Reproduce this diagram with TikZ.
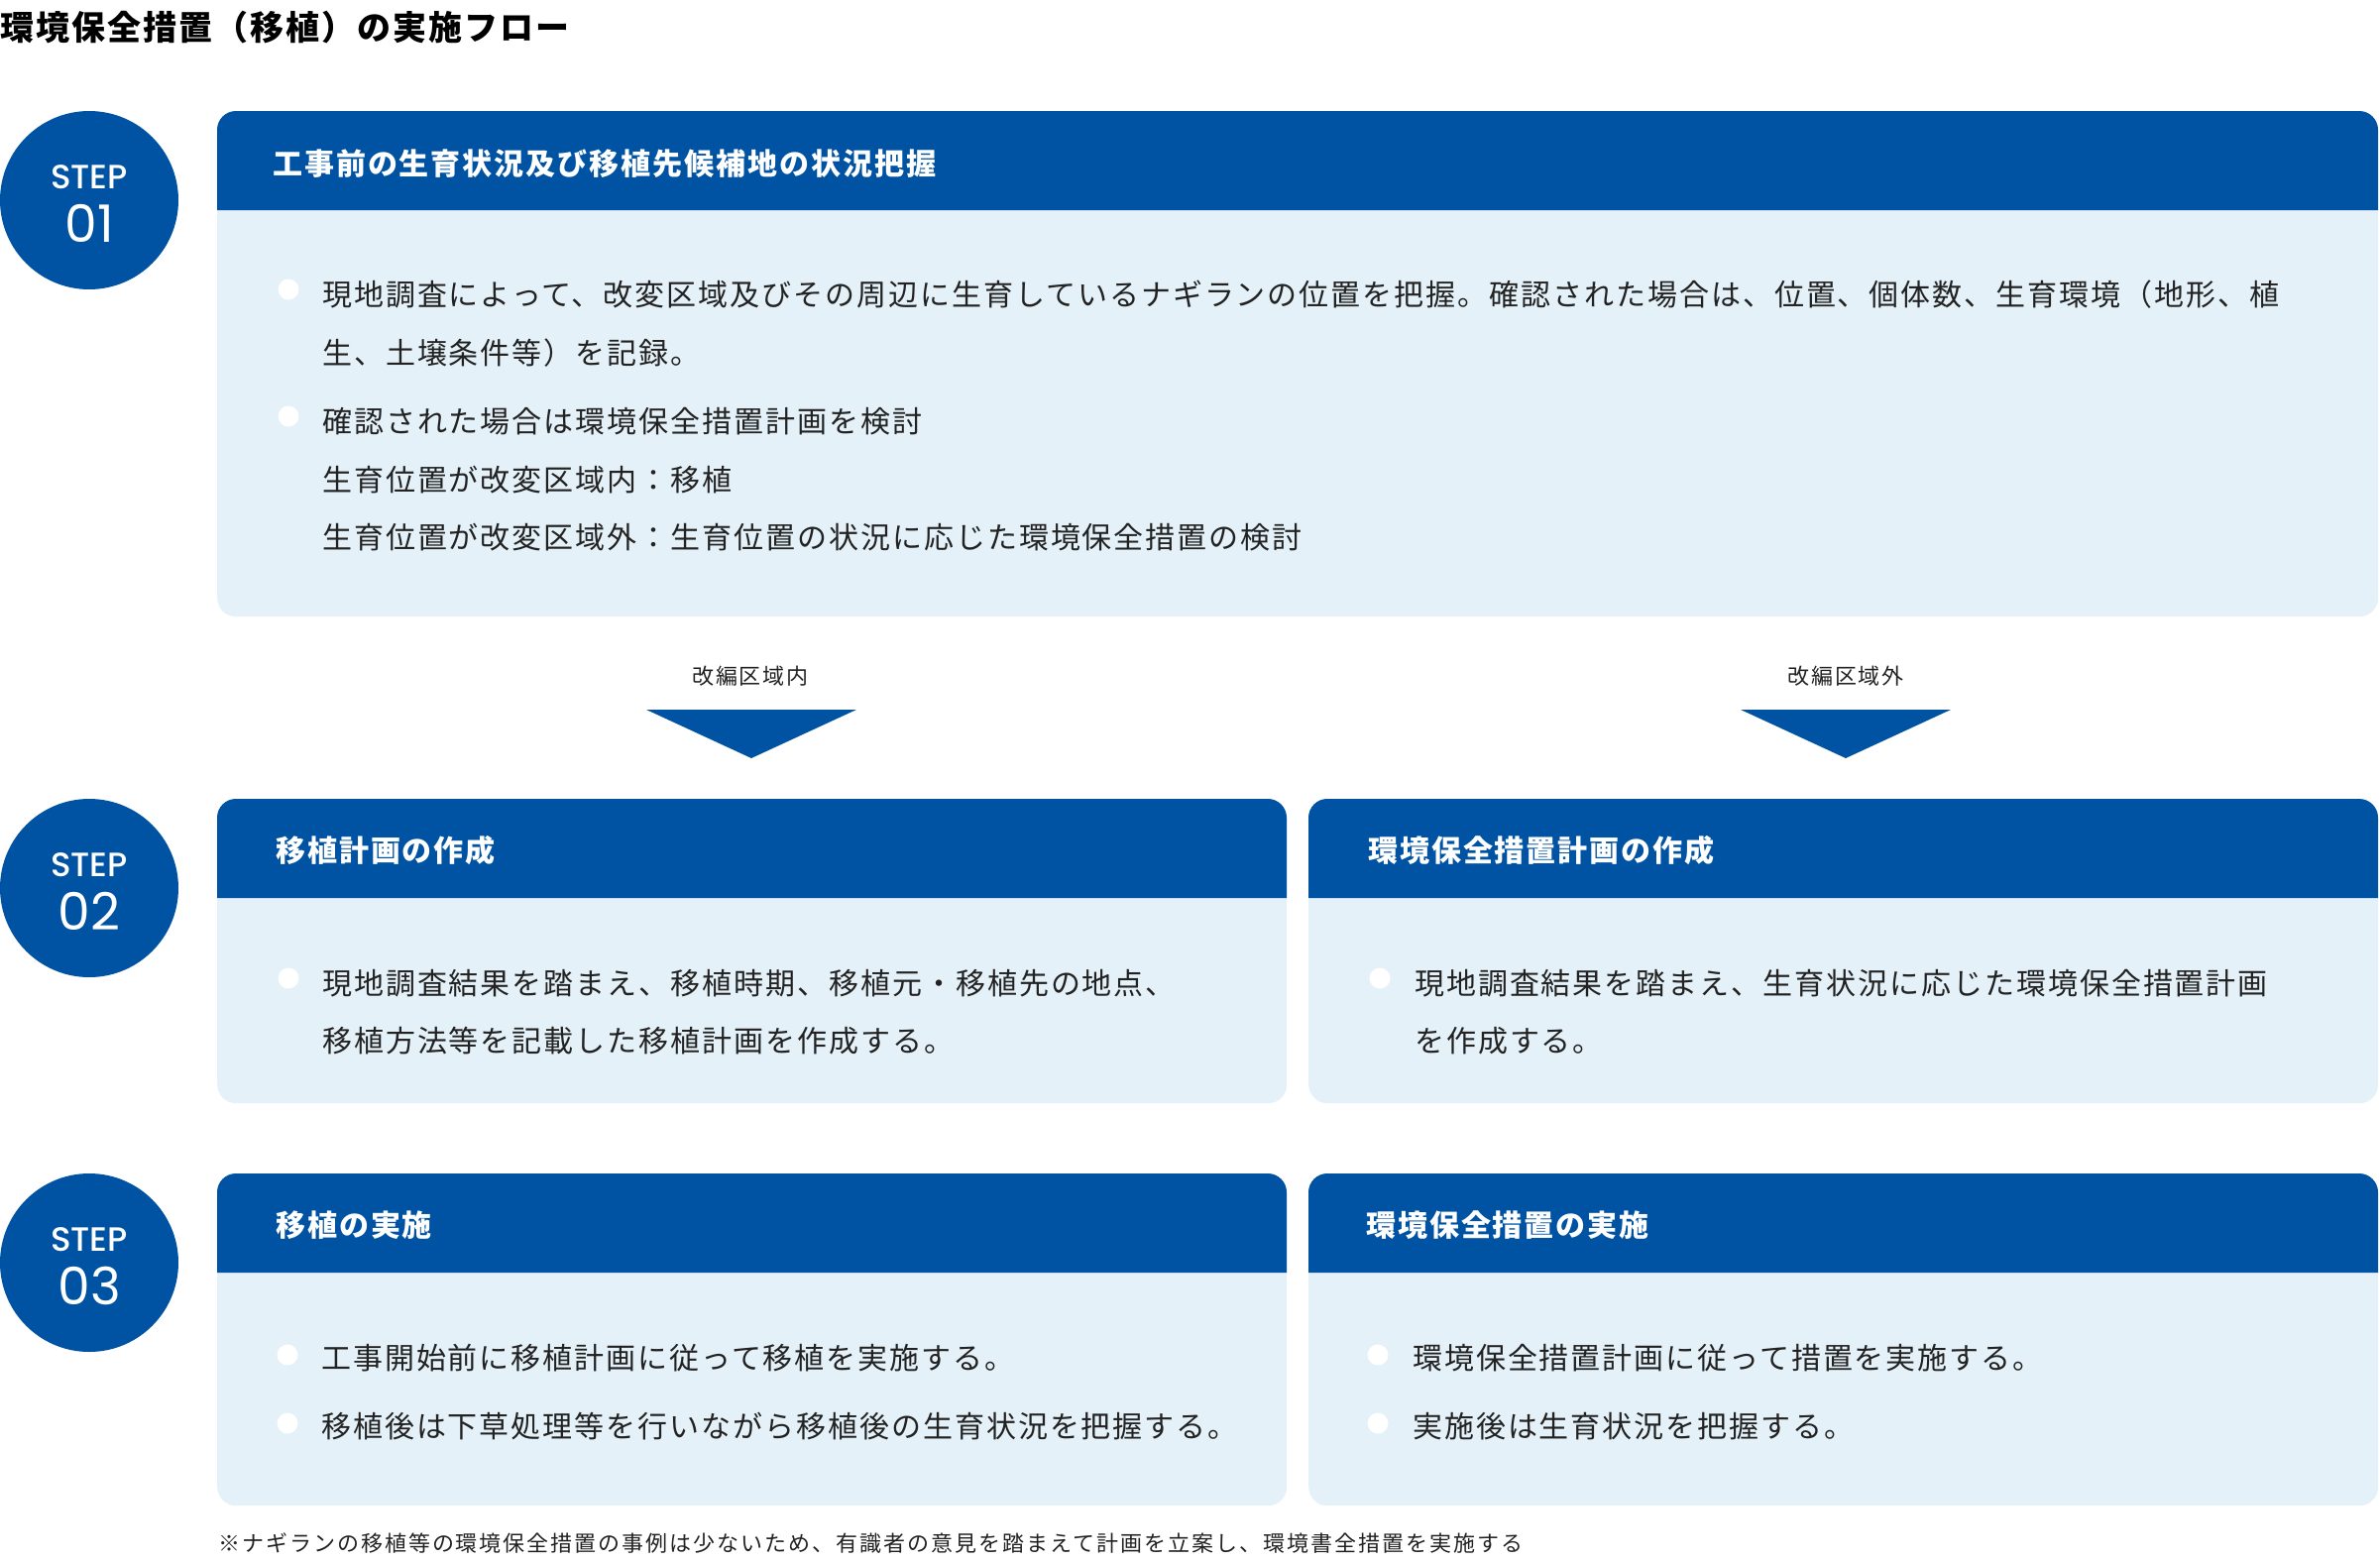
\documentclass[tikz,border=0pt]{standalone}
\usepackage{fontspec}
\usepackage{tikz}
\setmainfont{Noto Sans CJK JP}[LetterSpace=6.5]
\newfontfamily\titlefont{Noto Sans CJK JP}[LetterSpace=6]
\newfontfamily\smallfont{Noto Sans CJK JP}[LetterSpace=9]
\newfontfamily\stepfont{Poppins Medium}
\newfontfamily\numfont{Poppins}
\definecolor{stepblue}{RGB}{0,83,162}
\definecolor{paleblue}{RGB}{228,241,248}
\definecolor{inkgray}{RGB}{34,34,34}
\tikzset{
    stepcircle/.style={shape=circle, fill=stepblue, minimum size=180pt, inner sep=0pt},
    steptext/.style={text=white, inner sep=0pt, font=\stepfont\fontsize{34}{34}\selectfont},
    stepnum/.style={text=white, inner sep=0pt, font=\numfont\fontsize{52}{52}\selectfont},
    bodybox/.style={fill=paleblue, rounded corners=19pt, anchor=north west, inner sep=0pt},
    headtext/.style={anchor=base west, inner sep=0pt, text=white, font=\bfseries\fontsize{30}{30}\selectfont},
    bodytext/.style={anchor=base west, inner sep=0pt, text=inkgray, font=\fontsize{30}{30}\selectfont},
    dot/.style={shape=circle, fill=white, minimum size=21pt, inner sep=0pt},
    branchtext/.style={anchor=base, inner sep=0pt, text=inkgray, font=\smallfont\fontsize{22}{22}\selectfont},
}

\begin{document}
\begin{tikzpicture}[x=1pt, y=-1pt]

            \useasboundingbox (0,0) rectangle (2401,1574);

            \node[anchor=base west, inner sep=0pt, font=\titlefont\bfseries\fontsize{34}{34}\selectfont] (title) at (0,40) {環境保全措置（移植）の実施フロー};

            % step 01
            \node[stepcircle] (c1) at (90,202) {};
            \node[steptext] (c1a) at (90,179) {STEP};
            \node[stepnum] (c1b) at (90,225) {01};
            \node[bodybox, minimum width=2180pt, minimum height=510pt] (box1) at (219,112) {};
            \fill[stepblue] (219,212) [rounded corners=19pt] -- (219,112) -- (2399,112) [sharp corners] -- (2399,212) -- cycle;
            \node[headtext] (h1) at (275,176) {工事前の生育状況及び移植先候補地の状況把握};
            \node[dot] (d1a) at (291,292) {};
            \node[bodytext] (t1a) at (325,308) {現地調査によって、改変区域及びその周辺に生育しているナギランの位置を把握。確認された場合は、位置、個体数、生育環境（地形、植};
            \node[bodytext] (t1b) at (325,367) {生、土壌条件等）を記録。};
            \node[dot] (d1b) at (291,420) {};
            \node[bodytext] (t1c) at (325,436) {確認された場合は環境保全措置計画を検討};
            \node[bodytext] (t1d) at (325,495) {生育位置が改変区域内：移植};
            \node[bodytext] (t1e) at (325,553) {生育位置が改変区域外：生育位置の状況に応じた環境保全措置の検討};

            % branches
            \node[branchtext] (inside) at (757,690) {改編区域内};
            \node[branchtext] (outside) at (1862,690) {改編区域外};
            \coordinate (ain) at (758,716);
            \coordinate (aout) at (1862,716);
            \fill[stepblue] (ain) ++(-106,0) -- ++(212,0) -- ++(-106,49) -- cycle;
            \fill[stepblue] (aout) ++(-106,0) -- ++(212,0) -- ++(-106,49) -- cycle;

            % step 02
            \node[stepcircle] (c2) at (90,896) {};
            \node[steptext] (c2a) at (90,873) {STEP};
            \node[stepnum] (c2b) at (90,919) {02};
            \node[bodybox, minimum width=1079pt, minimum height=307pt] (box2a) at (219,806) {};
            \fill[stepblue] (219,906) [rounded corners=19pt] -- (219,806) -- (1298,806) [sharp corners] -- (1298,906) -- cycle;
            \node[headtext] (h2a) at (278,869) {移植計画の作成};
            \node[dot] (d2a) at (291,987) {};
            \node[bodytext] (t2a) at (325,1003) {現地調査結果を踏まえ、移植時期、移植元・移植先の地点、};
            \node[bodytext] (t2b) at (325,1061) {移植方法等を記載した移植計画を作成する。};

            \node[bodybox, minimum width=1079pt, minimum height=307pt] (box2b) at (1320,806) {};
            \fill[stepblue] (1320,906) [rounded corners=19pt] -- (1320,806) -- (2399,806) [sharp corners] -- (2399,906) -- cycle;
            \node[headtext] (h2b) at (1380,869) {環境保全措置計画の作成};
            \node[dot] (d2b) at (1392,987) {};
            \node[bodytext] (t2c) at (1427,1003) {現地調査結果を踏まえ、生育状況に応じた環境保全措置計画};
            \node[bodytext] (t2d) at (1427,1061) {を作成する。};

            % step 03
            \node[stepcircle] (c3) at (90,1274) {};
            \node[steptext] (c3a) at (90,1251) {STEP};
            \node[stepnum] (c3b) at (90,1297) {03};
            \node[bodybox, minimum width=1079pt, minimum height=335pt] (box3a) at (219,1184) {};
            \fill[stepblue] (219,1284) [rounded corners=19pt] -- (219,1184) -- (1298,1184) [sharp corners] -- (1298,1284) -- cycle;
            \node[headtext] (h3a) at (278,1247) {移植の実施};
            \node[dot] (d3a) at (290,1367) {};
            \node[bodytext] (t3a) at (324,1381) {工事開始前に移植計画に従って移植を実施する。};
            \node[dot] (d3b) at (290,1436) {};
            \node[bodytext] (t3b) at (324,1450) {移植後は下草処理等を行いながら移植後の生育状況を把握する。};

            \node[bodybox, minimum width=1079pt, minimum height=335pt] (box3b) at (1320,1184) {};
            \fill[stepblue] (1320,1284) [rounded corners=19pt] -- (1320,1184) -- (2399,1184) [sharp corners] -- (2399,1284) -- cycle;
            \node[headtext] (h3b) at (1378,1247) {環境保全措置の実施};
            \node[dot] (d3c) at (1390,1367) {};
            \node[bodytext] (t3c) at (1425,1381) {環境保全措置計画に従って措置を実施する。};
            \node[dot] (d3d) at (1390,1436) {};
            \node[bodytext] (t3d) at (1425,1450) {実施後は生育状況を把握する。};

            \node[anchor=base west, inner sep=0pt, text=inkgray, font=\smallfont\fontsize{22}{22}\selectfont] (note) at (220,1565) {※ナギランの移植等の環境保全措置の事例は少ないため、有識者の意見を踏まえて計画を立案し、環境書全措置を実施する};

\end{tikzpicture}
\end{document}
